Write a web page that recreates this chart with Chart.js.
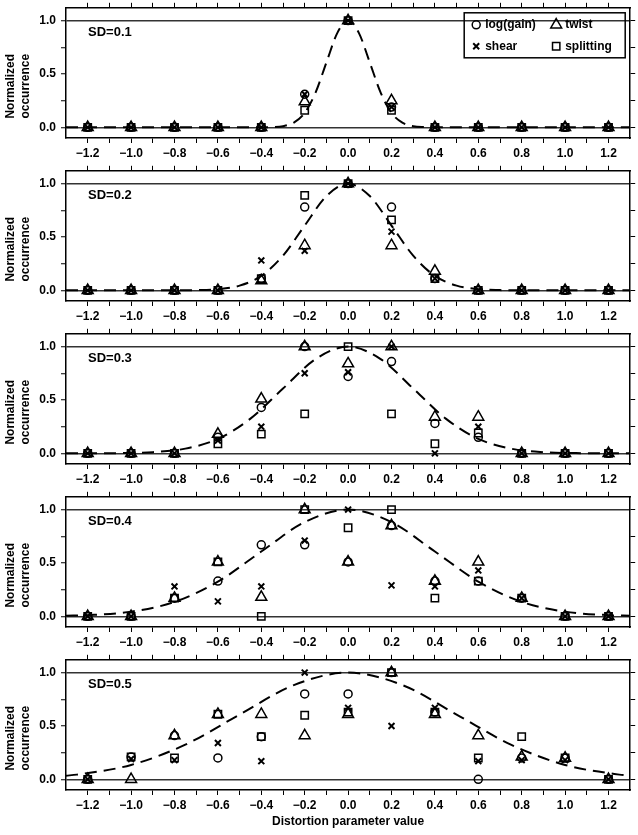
<!DOCTYPE html>
<html>
<head>
<meta charset="utf-8">
<script src="https://cdn.jsdelivr.net/npm/chart.js@4.4.0/dist/chart.umd.min.js"></script>
<style>
  body { margin: 0; background: #fff; }
  #wrap { position: relative; width: 638px; height: 835px; }
  .panel { position: absolute; left: 0; width: 638px; }
</style>
</head>
<body>
<div id="wrap"></div>
<script>
'use strict';

// x positions of the samples and axis labels
const xs = [-1.2, -1.0, -0.8, -0.6, -0.4, -0.2, 0, 0.2, 0.4, 0.6, 0.8, 1.0, 1.2];
const xLabels = ['\u22121.2', '\u22121.0', '\u22120.8', '\u22120.6', '\u22120.4', '\u22120.2', '0.0', '0.2', '0.4', '0.6', '0.8', '1.0', '1.2'];
const yTickVals = [0, 0.5, 1];
const yLabels = ['0.0', '0.5', '1.0'];
const sdLabels = ['SD=0.1', 'SD=0.2', 'SD=0.3', 'SD=0.4', 'SD=0.5'];
const seriesNames = ['log(gain)', 'twist', 'shear', 'splitting'];

// SD = 0.1
const gain1  = [0, 0, 0, 0, 0, 0.31, 1, 0.19, 0, 0, 0, 0, 0];
const twist1 = [0, 0, 0, 0, 0, 0.24, 1, 0.25, 0, 0, 0, 0, 0];
const shear1 = [0, 0, 0, 0, 0, 0.31, 1, 0.19, 0, 0, 0, 0, 0];
const split1 = [0, 0, 0, 0, 0, 0.16, 1, 0.16, 0, 0, 0, 0, 0];
// SD = 0.2
const gain2  = [0, 0, 0, 0, 0.11, 0.78, 1, 0.78, 0.11, 0, 0, 0, 0];
const twist2 = [0, 0, 0, 0, 0.09, 0.42, 1, 0.42, 0.18, 0, 0, 0, 0];
const shear2 = [0, 0, 0, 0, 0.28, 0.37, 1, 0.55, 0.11, 0, 0, 0, 0];
const split2 = [0, 0, 0, 0, 0.11, 0.89, 1, 0.66, 0.11, 0, 0, 0, 0];
// SD = 0.3
const gain3  = [0, 0, 0, 0.15, 0.43, 1, 0.72, 0.86, 0.28, 0.15, 0, 0, 0];
const twist3 = [0, 0, 0, 0.18, 0.51, 1, 0.84, 1, 0.34, 0.34, 0, 0, 0];
const shear3 = [0, 0, 0, 0.12, 0.25, 0.75, 0.76, 1, 0, 0.25, 0, 0, 0];
const split3 = [0, 0, 0, 0.09, 0.18, 0.37, 1, 0.37, 0.09, 0.19, 0, 0, 0];
// SD = 0.4
const gain4  = [0, 0, 0.17, 0.33, 0.67, 0.67, 0.51, 0.85, 0.33, 0.33, 0.17, 0, 0];
const twist4 = [0, 0, 0.17, 0.51, 0.18, 1, 0.51, 0.85, 0.33, 0.51, 0.17, 0, 0];
const shear4 = [0, 0, 0.28, 0.14, 0.28, 0.71, 1, 0.29, 0.28, 0.43, 0.17, 0, 0];
const split4 = [0, 0, 0.17, 0.51, 0, 1, 0.83, 1, 0.17, 0.33, 0.17, 0, 0];
// SD = 0.5
const gain5  = [0, 0.21, 0.41, 0.2, 0.4, 0.8, 0.8, 1, 0.63, 0, 0.2, 0.2, 0];
const twist5 = [0, 0, 0.41, 0.61, 0.61, 0.41, 0.61, 1, 0.61, 0.41, 0.21, 0.2, 0];
const shear5 = [0, 0.19, 0.18, 0.34, 0.17, 1, 0.67, 0.5, 0.67, 0.17, 0.18, 0.18, 0];
const split5 = [0, 0.21, 0.2, 0.61, 0.4, 0.6, 0.63, 1, 0.63, 0.2, 0.4, 0.2, 0];

// dashed reference curves
const curveX1 = [-1.3, -0.4, -0.35, -0.3, -0.25, -0.2, -0.15, -0.1, -0.05, 0, 0.05, 0.1, 0.15, 0.2, 0.25, 0.3, 0.35, 0.4, 1.3];
const curveY1 = [0, 0, 0.002, 0.011, 0.044, 0.135, 0.325, 0.607, 0.883, 1, 0.883, 0.607, 0.325, 0.135, 0.044, 0.011, 0.002, 0, 0];
const curveX2 = [-1.3, -0.8, -0.7, -0.6, -0.5, -0.4, -0.3, -0.2, -0.1, 0, 0.1, 0.2, 0.3, 0.4, 0.5, 0.6, 0.7, 0.8, 1.3];
const curveY2 = [0, 0, 0.002, 0.011, 0.044, 0.135, 0.325, 0.607, 0.883, 1, 0.883, 0.607, 0.325, 0.135, 0.044, 0.011, 0.002, 0, 0];
const curveX3 = [-1.3, -1.2, -1.05, -0.9, -0.75, -0.6, -0.45, -0.3, -0.15, 0, 0.15, 0.3, 0.45, 0.6, 0.75, 0.9, 1.05, 1.2, 1.3];
const curveY3 = [0, 0, 0.002, 0.011, 0.044, 0.135, 0.325, 0.607, 0.883, 1, 0.883, 0.607, 0.325, 0.135, 0.044, 0.011, 0.002, 0, 0];
const curveX4 = [-1.3, -1.2, -1.0, -0.8, -0.6, -0.4, -0.2, 0, 0.2, 0.4, 0.6, 0.8, 1.0, 1.2, 1.3];
const curveY4 = [0.005, 0.011, 0.044, 0.135, 0.325, 0.607, 0.883, 1, 0.883, 0.607, 0.325, 0.135, 0.044, 0.011, 0.005];
const curveX5 = [-1.3, -1.25, -1.0, -0.75, -0.5, -0.25, 0, 0.25, 0.5, 0.75, 1.0, 1.25, 1.3];
const curveY5 = [0.034, 0.044, 0.135, 0.325, 0.607, 0.883, 1, 0.883, 0.607, 0.325, 0.135, 0.044, 0.034];

const panels = [
  {series: [gain1, twist1, shear1, split1], cx: curveX1, cy: curveY1},
  {series: [gain2, twist2, shear2, split2], cx: curveX2, cy: curveY2},
  {series: [gain3, twist3, shear3, split3], cx: curveX3, cy: curveY3},
  {series: [gain4, twist4, shear4, split4], cx: curveX4, cy: curveY4},
  {series: [gain5, twist5, shear5, split5], cx: curveX5, cy: curveY5},
];

const FONT = '"Liberation Sans", Arial, Helvetica, sans-serif';
Chart.defaults.font.family = FONT;
Chart.defaults.font.size = 12;
Chart.defaults.font.weight = 'bold';
Chart.defaults.color = '#000';

const markers = [
  {pointStyle: 'circle', pointRadius: 4, borderWidth: 1.5},
  {pointStyle: 'triangle', pointRadius: 6.3, borderWidth: 1.5},
  {pointStyle: 'crossRot', pointRadius: 4.2, borderWidth: 2},
  {pointStyle: 'rect', pointRadius: 5.2, borderWidth: 1.5},
];

// SD label and the boxed legend of the first panel
const panelText = {
  id: 'panelText',
  afterDraw(chart, args, opts) {
    const ctx = chart.ctx;
    const a = chart.chartArea;
    ctx.save();
    ctx.fillStyle = '#000';
    ctx.textBaseline = 'middle';
    ctx.font = 'bold 13px ' + FONT;
    ctx.fillText(opts.label, a.left + 22, a.top + 25);
    if (opts.legend) {
      const right = a.right - 5;
      const left = right - 161;
      const top = a.top + 5;
      ctx.lineWidth = 1.5;
      ctx.strokeStyle = '#000';
      ctx.strokeRect(left, top, right - left, 45);
      ctx.font = 'bold 12px ' + FONT;
      chart.data.datasets.forEach((ds, i) => {
        if (!ds.label) return;
        const mx = left + 12 + (i % 2) * 80;
        const my = top + 12 + Math.floor(i / 2) * 21.5;
        ctx.fillStyle = 'rgba(0,0,0,0)';
        ctx.strokeStyle = '#000';
        ctx.lineWidth = ds.borderWidth;
        Chart.helpers.drawPoint(ctx, {pointStyle: ds.pointStyle, radius: ds.pointRadius, borderWidth: ds.borderWidth, rotation: 0}, mx, my);
        ctx.fillStyle = '#000';
        ctx.fillText(ds.label, mx + 9, my);
      });
    }
    ctx.restore();
  }
};

const wrap = document.getElementById('wrap');

// keep the plot box exactly where the axes put it
const noPad = s => {
  s.paddingTop = 0;
  s.paddingBottom = 0;
  s.paddingLeft = 0;
  s.paddingRight = 0;
};

function makePanel(k) {
  const p = panels[k];
  const last = k === panels.length - 1;
  const top = Math.round(163.1 * k);
  const h = last ? 835 - top : 163;

  const div = document.createElement('div');
  div.className = 'panel';
  div.style.top = top + 'px';
  div.style.height = h + 'px';
  const canvas = document.createElement('canvas');
  canvas.width = 638;
  canvas.height = h;
  div.appendChild(canvas);
  wrap.appendChild(div);

  const datasets = p.series.map((vals, i) => Object.assign({
    label: seriesNames[i],
    data: vals.map((v, j) => ({x: xs[j], y: v})),
    borderColor: '#000',
    backgroundColor: 'rgba(0,0,0,0)',
    showLine: false,
  }, markers[i]));

  datasets.push({
    data: p.cx.map((x, j) => ({x: x, y: p.cy[j]})),
    showLine: true,
    borderColor: '#000',
    borderWidth: 2,
    borderDash: [12, 7],
    pointRadius: 0,
    cubicInterpolationMode: 'monotone',
    fill: false,
  });

  const xTicks = axis => {
    axis.ticks = [];
    for (let i = -12; i <= 12; i++) axis.ticks.push({value: i / 10});
  };
  const yTicks = axis => {
    axis.ticks = [0, 0.25, 0.5, 0.75, 1].map(v => ({value: v}));
  };

  new Chart(canvas, {
    type: 'scatter',
    data: {datasets: datasets},
    plugins: [panelText],
    options: {
      responsive: false,
      animation: false,
      devicePixelRatio: 1,
      layout: {padding: 0},
      plugins: {
        legend: {display: false},
        tooltip: {enabled: false},
        panelText: {label: sdLabels[k], legend: k === 0},
      },
      scales: {
        x: {
          type: 'linear',
          position: 'bottom',
          min: -1.3,
          max: 1.3,
          afterBuildTicks: xTicks,
          afterFit: s => { s.height = last ? 45 : 25; noPad(s); },
          ticks: {
            autoSkip: false,
            maxRotation: 0,
            padding: 3,
            callback: v => {
              const i = xs.findIndex(x => Math.abs(x - v) < 1e-6);
              return i >= 0 ? xLabels[i] : '';
            },
          },
          grid: {drawOnChartArea: false, tickLength: 5, tickColor: '#000', tickWidth: 1},
          border: {color: '#000', width: 1.5},
          title: {
            display: last,
            text: 'Distortion parameter value',
            font: {size: 12, weight: 'bold'},
            padding: {top: 0, bottom: 6},
          },
        },
        xTop: {
          type: 'linear',
          position: 'top',
          min: -1.3,
          max: 1.3,
          afterBuildTicks: xTicks,
          afterFit: s => { s.height = 5; noPad(s); },
          ticks: {display: false},
          grid: {drawOnChartArea: false, tickLength: 5, tickColor: '#000', tickWidth: 1},
          border: {color: '#000', width: 1.5},
        },
        y: {
          type: 'linear',
          position: 'left',
          min: -0.1,
          max: 1.12,
          afterBuildTicks: yTicks,
          afterFit: s => { s.width = 66; noPad(s); },
          ticks: {
            padding: 5,
            callback: v => {
              const i = yTickVals.findIndex(t => Math.abs(t - v) < 1e-6);
              return i >= 0 ? yLabels[i] : '';
            },
          },
          grid: {
            color: c => (c.tick && (c.tick.value === 0 || c.tick.value === 1)) ? '#333' : 'rgba(0,0,0,0)',
            lineWidth: 1.5,
            tickColor: '#000',
            tickWidth: 1,
            tickLength: 5,
          },
          border: {color: '#000', width: 1.5},
          title: {
            display: true,
            text: ['Normalized        ', 'occurrence        '],
            font: {size: 12, weight: 'bold', lineHeight: 1.25},
            padding: {top: 3, bottom: 0},
          },
        },
        yRight: {
          type: 'linear',
          position: 'right',
          min: -0.1,
          max: 1.12,
          afterBuildTicks: yTicks,
          afterFit: s => { s.width = 5.5; noPad(s); },
          ticks: {display: false},
          grid: {drawOnChartArea: false, tickLength: 5, tickColor: '#000', tickWidth: 1},
          border: {color: '#000', width: 1.5},
        },
      },
    },
  });
}

for (let k = 0; k < panels.length; k++) {
  makePanel(k);
}
</script>
</body>
</html>
